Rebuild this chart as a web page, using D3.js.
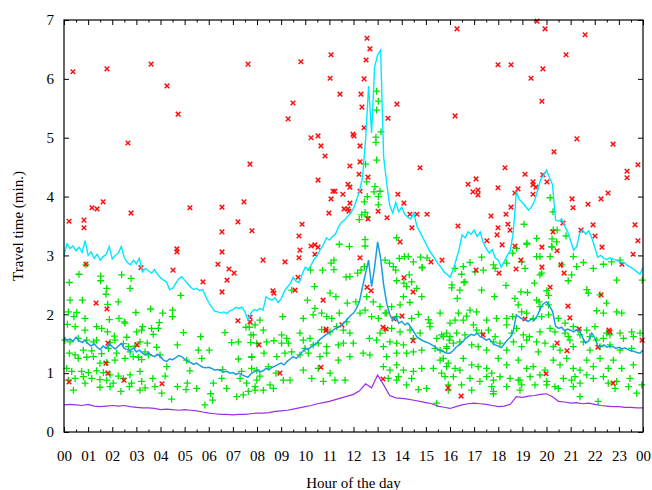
<!DOCTYPE html>
<html>
<head>
<meta charset="utf-8">
<script src="https://cdn.jsdelivr.net/npm/d3@7/dist/d3.min.js"></script>
<style>
  body { margin: 0; background: #fff; }
  svg { display: block; font-family: "Liberation Serif", "DejaVu Serif", serif; }
</style>
</head>
<body>
<svg id="chart" width="652" height="490"></svg>
<script>
// hour tick labels
var hourLabels = ["00","01","02","03","04","05","06","07","08","09","10","11",
  "12","13","14","15","16","17","18","19","20","21","22","23","00"];
var yTicks = [0, 1, 2, 3, 4, 5, 6, 7];

// upper curve (cyan), one value every 1/8 hour
var cyanStep = 0.125;
var cyanVals = [3.00,3.20,3.12,3.16,3.08,3.14,3.05,3.25,3.00,3.06,2.95,3.02,2.92,2.98,3.02,3.15,
  2.94,3.00,3.04,3.15,2.96,2.88,2.84,2.92,2.86,2.95,2.72,2.78,2.74,2.70,2.76,2.68,
  2.62,2.58,2.55,2.42,2.44,2.52,2.60,2.64,2.58,2.52,2.46,2.42,2.44,2.40,2.42,2.30,
  2.20,2.12,2.05,2.04,2.02,2.04,2.01,2.06,2.08,2.12,2.10,2.12,2.04,1.90,2.02,2.08,
  2.06,2.10,2.07,2.30,2.26,2.24,2.28,2.20,2.26,2.38,2.46,2.52,2.63,2.56,2.54,2.68,
  2.80,2.76,2.84,2.94,3.00,3.10,3.18,3.30,3.26,3.32,3.36,3.48,3.56,3.60,3.66,3.72,
  3.80,3.94,4.10,4.33,4.96,5.88,5.08,6.20,6.41,6.49,4.67,4.23,3.85,3.72,3.90,3.74,
  3.82,3.70,3.65,3.62,3.72,3.50,3.40,3.30,3.20,3.10,3.02,2.94,2.86,2.80,2.72,2.68,
  2.63,2.75,2.92,3.10,3.35,3.30,3.40,3.36,3.43,3.32,3.40,3.22,3.12,3.04,3.10,2.96,
  2.92,2.80,2.90,3.00,3.08,3.40,4.08,3.95,3.90,3.84,3.77,3.82,3.92,4.10,4.28,4.36,
  4.45,4.32,4.20,3.60,3.58,3.62,3.50,3.40,3.25,3.09,3.15,3.38,3.43,3.36,3.42,3.30,
  3.14,2.97,3.00,2.95,2.93,2.96,2.94,2.92,2.90,2.88,2.87,2.82,2.80,2.76,2.72,2.68,2.80];

// middle curve (blue), one value every 1/8 hour
var blueStep = 0.125;
var blueVals = [1.60,1.56,1.58,1.54,1.61,1.55,1.52,1.56,1.50,1.46,1.50,1.44,1.40,1.46,1.42,1.50,
  1.45,1.41,1.46,1.50,1.42,1.40,1.38,1.43,1.36,1.39,1.34,1.31,1.35,1.30,1.28,1.32,
  1.28,1.22,1.20,1.24,1.23,1.26,1.30,1.28,1.24,1.20,1.18,1.15,1.17,1.13,1.10,1.09,
  1.10,1.08,1.05,1.06,1.04,1.02,1.03,1.00,1.01,0.98,1.00,0.97,0.95,0.93,0.99,1.02,
  1.05,1.02,1.04,1.08,1.06,1.10,1.12,1.15,1.17,1.14,1.20,1.24,1.28,1.25,1.30,1.36,
  1.42,1.40,1.45,1.48,1.52,1.58,1.62,1.66,1.68,1.72,1.76,1.78,1.82,1.86,1.92,1.98,
  2.02,2.10,2.22,2.47,2.70,2.92,2.47,2.80,3.23,2.95,2.50,2.19,2.00,1.90,1.96,1.85,
  1.88,1.82,1.85,1.78,1.70,1.62,1.58,1.55,1.53,1.51,1.48,1.45,1.40,1.38,1.36,1.34,
  1.34,1.38,1.44,1.48,1.52,1.58,1.62,1.66,1.64,1.68,1.62,1.60,1.56,1.58,1.52,1.48,
  1.46,1.43,1.50,1.56,1.61,1.72,1.99,1.95,1.92,1.90,1.88,1.92,1.90,1.98,2.10,2.18,
  2.21,2.14,2.05,1.80,1.76,1.78,1.72,1.75,1.73,1.70,1.74,1.72,1.60,1.51,1.55,1.68,
  1.60,1.46,1.45,1.48,1.44,1.46,1.45,1.42,1.44,1.41,1.43,1.40,1.38,1.37,1.35,1.34,1.39];

// lower curve (purple), one value every 1/4 hour
var purpleStep = 0.25;
var purpleVals = [0.46,0.47,0.46,0.45,0.47,0.44,0.43,0.44,0.45,0.44,0.45,0.43,
  0.42,0.41,0.41,0.40,0.38,0.39,0.38,0.37,0.38,0.37,0.36,0.34,
  0.32,0.31,0.30,0.30,0.29,0.30,0.30,0.31,0.32,0.32,0.33,0.35,
  0.36,0.37,0.39,0.41,0.43,0.45,0.48,0.50,0.52,0.55,0.58,0.61,
  0.64,0.70,0.82,0.75,0.97,0.80,0.62,0.58,0.57,0.56,0.54,0.52,
  0.50,0.48,0.44,0.42,0.40,0.43,0.46,0.48,0.49,0.48,0.47,0.45,
  0.43,0.44,0.47,0.60,0.59,0.61,0.62,0.64,0.65,0.60,0.52,0.51,
  0.49,0.50,0.48,0.49,0.47,0.45,0.44,0.43,0.43,0.42,0.42,0.41,0.41];

// single observations [hour, minutes]
var greenPts = [
  [0.91,2.84],[0.62,2.68],[1.52,2.65],[1.52,2.57],[2.39,2.67],[2.78,2.61],[0.22,2.54],[1.77,2.44],
  [1.74,2.34],[2.74,2.44],[4.84,2.32],[0.25,2.24],[0.76,2.24],[1.81,2.17],[2.25,2.21],[0.18,2.04],
  [0.53,2.03],[0.41,1.96],[0.87,1.93],[1.88,1.91],[2.28,1.93],[2.50,1.87],[2.98,2.03],[3.59,2.09],
  [4.09,2.02],[4.50,2.07],[4.49,1.96],[0.14,1.83],[0.46,1.79],[0.87,1.73],[1.35,1.79],[1.56,1.76],
  [1.80,1.70],[2.09,1.63],[2.60,1.61],[2.53,1.85],[3.01,1.70],[3.26,1.79],[3.22,1.73],[3.63,1.76],
  [3.95,1.86],[3.91,1.76],[3.70,1.66],[4.95,1.69],[5.66,1.62],[6.67,1.69],[7.68,1.78],[7.54,1.78],
  [7.92,1.82],[7.75,1.65],[0.04,1.56],[0.25,1.53],[0.59,1.59],[0.94,1.56],[1.22,1.53],[1.35,1.56],
  [1.91,1.52],[2.11,1.56],[2.46,1.50],[2.67,1.45],[2.94,1.46],[3.15,1.53],[3.45,1.51],[4.70,1.48],
  [5.57,1.39],[6.02,1.39],[6.95,1.52],[7.23,1.53],[7.74,1.52],[0.22,1.34],[0.46,1.31],[0.80,1.39],
  [1.15,1.38],[1.56,1.33],[1.84,1.42],[2.18,1.34],[2.74,1.36],[3.08,1.27],[3.36,1.36],[3.84,1.44],
  [3.98,1.31],[0.59,1.25],[0.94,1.27],[1.22,1.28],[1.49,1.17],[1.77,1.18],[2.11,1.22],[2.53,1.25],
  [2.87,1.28],[3.22,1.23],[3.50,1.31],[5.08,1.22],[5.71,1.25],[7.23,1.24],[7.78,1.27],[0.11,1.08],
  [0.32,1.03],[0.73,1.03],[1.01,1.01],[1.35,1.04],[1.63,1.01],[1.91,0.97],[2.25,0.95],[2.74,0.97],
  [3.15,1.03],[4.26,1.11],[5.22,1.04],[6.58,1.06],[7.36,1.03],[8.12,0.95],[0.18,0.88],[0.46,0.91],
  [0.80,0.94],[1.15,0.91],[1.49,0.89],[1.77,0.88],[2.04,0.83],[2.46,0.91],[2.80,0.83],[3.22,0.86],
  [3.68,0.91],[4.19,0.95],[4.70,0.77],[5.11,0.83],[5.50,0.74],[6.19,0.83],[6.54,0.91],[7.30,0.91],
  [7.57,0.83],[7.99,0.88],[0.39,0.71],[0.87,0.83],[1.49,0.76],[1.91,0.77],[2.36,0.69],[2.71,0.77],
  [3.15,0.71],[3.36,0.75],[3.77,0.77],[4.05,0.66],[4.46,0.56],[5.06,0.72],[6.08,0.65],[6.16,0.54],
  [5.84,0.46],[6.74,0.74],[7.16,0.60],[7.43,0.63],[7.64,0.69],[7.92,0.71],
  [12.96,5.79],[13.03,5.62],[12.96,5.47],[13.14,5.10],[12.93,5.01],[12.93,4.92],[12.96,4.62],[12.50,4.55],
  [12.55,4.25],[12.89,4.17],[12.85,4.08],[13.10,4.09],[13.03,4.00],[12.57,4.00],[12.45,3.91],[13.03,3.86],
  [12.48,3.73],[12.34,3.69],[12.57,3.66],[12.24,3.61],[11.41,3.19],[11.83,3.15],[12.48,3.27],[12.48,3.16],
  [13.79,3.30],[14.11,2.98],[13.90,2.95],[11.19,2.92],[11.07,2.87],[11.19,2.76],[10.72,2.75],[10.22,2.75],
  [11.69,2.63],[11.85,2.64],[12.17,2.70],[12.31,2.75],[12.45,2.81],[13.31,2.92],[13.49,2.87],[13.65,2.81],
  [13.75,2.75],[14.27,2.98],[14.48,2.89],[14.78,2.97],[14.85,2.80],[14.31,2.67],[14.09,2.53],[14.20,2.47],
  [14.41,2.55],[13.79,2.57],[14.07,2.30],[14.34,2.20],[14.62,2.44],[14.83,2.30],[13.93,2.16],[13.58,2.13],
  [13.37,2.02],[13.79,1.96],[14.69,2.00],[14.41,1.93],[15.10,1.91],[15.59,2.02],[9.44,2.41],[10.38,2.47],
  [11.03,2.36],[11.27,2.30],[11.74,2.19],[12.10,2.21],[12.55,2.30],[12.82,2.21],[13.10,2.13],[13.31,2.02],
  [10.09,2.24],[10.40,2.10],[10.68,2.02],[11.10,1.93],[11.41,2.02],[11.72,1.87],[12.27,2.02],[12.48,2.07],
  [12.75,1.96],[13.03,1.93],[13.31,1.73],[13.10,1.68],[13.58,1.76],[13.51,1.53],[13.93,1.70],[14.34,1.73],
  [14.76,1.68],[15.17,1.85],[15.17,1.79],[15.65,1.65],[15.86,1.68],[15.97,1.56],[8.12,1.90],[9.06,1.96],
  [9.92,1.93],[10.33,1.99],[10.89,1.96],[8.26,1.73],[9.02,1.65],[9.23,1.59],[9.78,1.68],[10.20,1.59],
  [10.68,1.74],[11.03,1.70],[11.30,1.79],[11.58,1.73],[11.85,1.68],[8.40,1.53],[8.70,1.55],[9.02,1.51],
  [9.30,1.51],[9.92,1.56],[9.99,1.42],[10.33,1.48],[10.54,1.51],[10.89,1.45],[11.37,1.48],[11.58,1.51],
  [11.99,1.51],[12.66,1.59],[12.96,1.56],[13.24,1.45],[13.79,1.51],[14.07,1.48],[14.48,1.59],[15.45,1.59],
  [15.86,1.42],[7.85,1.65],[7.99,1.51],[7.78,1.28],[8.29,1.34],[8.82,1.28],[9.16,1.34],[9.44,1.36],
  [9.78,1.31],[10.13,1.34],[10.61,1.28],[10.89,1.34],[11.37,1.22],[11.85,1.28],[12.40,1.34],[13.37,1.28],
  [13.79,1.34],[14.20,1.34],[14.48,1.36],[14.83,1.39],[15.38,1.42],[15.72,1.25],[7.78,1.08],[7.99,1.05],
  [8.47,1.11],[8.79,1.00],[9.09,0.88],[9.37,0.88],[9.92,1.05],[10.27,0.91],[10.54,1.08],[10.75,0.86],
  [11.03,1.00],[11.23,0.88],[11.65,0.88],[13.24,1.11],[13.51,1.05],[13.79,1.14],[14.07,1.05],[14.48,1.03],
  [14.83,1.08],[15.31,1.08],[15.65,1.00],[15.86,1.11],[7.92,0.77],[8.26,0.71],[8.54,0.80],[8.68,0.74],
  [12.68,1.31],[13.44,0.91],[13.79,0.88],[14.20,0.80],[14.69,0.72],[15.03,0.74],[15.45,0.49],[15.93,0.80],
  [13.86,0.94],[14.41,0.91],
  [15.05,2.96],[14.84,2.79],[16.08,2.50],[16.41,2.41],[16.62,2.55],
  [20.15,3.98],[20.27,3.74],[20.23,3.28],[20.44,3.43],[20.81,3.33],[19.19,3.21],[20.23,3.14],
  [19.07,3.53],[19.59,3.29],[20.28,3.43],[20.42,3.23],[20.21,3.15],[19.18,3.19],[18.76,3.12],[18.60,3.04],
  [17.31,2.97],[16.83,2.88],[16.55,2.81],[16.21,2.78],[17.04,2.72],[17.38,2.75],[17.80,2.84],[17.87,2.78],
  [18.35,2.87],[18.97,2.89],[19.59,2.98],[19.73,2.98],[20.15,2.98],[20.63,2.84],[21.11,2.98],[21.25,2.81],
  [21.53,2.88],[21.94,2.78],[22.36,2.85],[22.70,2.89],[23.05,2.92],[21.04,2.67],[19.80,2.70],[19.73,2.67],
  [19.11,2.78],[16.48,2.68],[16.58,2.54],[16.07,2.45],[16.30,2.27],[17.31,2.41],[18.32,2.49],[19.50,2.53],
  [18.94,2.38],[19.21,2.37],[20.01,2.40],[20.08,2.32],[20.90,2.57],[21.67,2.42],[21.73,2.36],[22.22,2.33],
  [22.91,2.58],[23.97,2.58],[17.84,2.30],[18.69,2.27],[18.83,2.16],[18.97,2.04],[19.59,2.24],[19.69,2.21],
  [20.08,2.16],[19.73,2.13],[22.49,2.19],[22.08,2.06],[22.36,2.02],[22.91,2.04],[23.12,2.02],[16.35,2.02],
  [16.21,1.90],[16.00,1.85],[16.55,1.90],[16.83,2.07],[17.10,2.04],[16.69,1.97],[17.52,1.90],[17.93,1.93],
  [18.35,1.93],[18.60,1.96],[19.18,2.02],[19.45,1.93],[19.80,1.96],[20.08,1.99],[20.49,1.93],[20.77,1.85],
  [21.11,1.79],[21.32,1.73],[21.67,1.73],[22.01,1.79],[22.49,1.68],[23.05,1.68],[23.53,1.70],[15.72,1.62],
  [16.00,1.62],[16.28,1.68],[16.62,1.65],[16.97,1.82],[17.10,1.73],[17.31,1.68],[17.59,1.73],[17.87,1.62],
  [18.35,1.82],[18.56,1.68],[18.76,1.76],[19.04,1.65],[19.29,1.62],[19.73,1.70],[20.15,1.76],[20.35,1.70],
  [20.77,1.68],[20.90,1.62],[21.39,1.65],[21.80,1.62],[22.08,1.56],[22.36,1.59],[22.63,1.65],[23.19,1.59],
  [23.60,1.62],[23.88,1.68],[15.59,1.39],[15.86,1.45],[16.14,1.51],[16.41,1.53],[16.90,1.48],[17.17,1.45],
  [17.52,1.39],[17.80,1.53],[18.07,1.51],[18.35,1.39],[18.63,1.53],[18.97,1.45],[19.18,1.56],[19.59,1.53],
  [19.94,1.51],[20.28,1.45],[20.56,1.39],[20.97,1.56],[21.11,1.45],[21.53,1.53],[21.80,1.39],[22.22,1.45],
  [22.63,1.48],[23.05,1.39],[23.53,1.42],[15.59,1.22],[15.93,1.17],[16.21,1.08],[16.55,1.25],[16.90,1.14],
  [17.17,1.11],[17.52,1.08],[17.73,1.00],[18.00,1.25],[18.35,1.14],[18.83,1.22],[19.18,1.08],[19.45,1.11],
  [19.66,1.36],[19.94,1.05],[20.28,1.22],[20.56,1.14],[20.84,1.25],[21.11,1.08],[21.39,1.05],[21.67,1.22],
  [21.94,1.11],[22.22,1.25],[22.56,1.08],[22.77,1.22],[23.12,1.08],[23.60,1.14],[15.79,0.94],[16.14,0.94],
  [16.41,1.05],[16.83,0.91],[17.24,0.86],[17.52,0.94],[17.80,0.88],[18.07,0.94],[18.49,0.91],[18.90,0.88],
  [18.97,0.80],[19.32,0.94],[19.73,0.97],[20.01,0.80],[20.35,0.77],[20.70,0.91],[21.04,0.88],[21.18,0.94],
  [21.39,0.83],[21.67,0.97],[21.94,0.91],[22.36,0.94],[22.56,0.83],[22.91,0.86],[23.46,0.91],[23.95,0.80],
  [15.93,0.71],[16.48,0.80],[16.90,0.71],[17.73,0.77],[17.80,0.69],[18.35,0.77],[18.90,0.71],[19.52,0.80],
  [20.01,0.86],[20.49,0.74],[21.11,0.77],[21.39,0.60],[22.14,0.52],[22.84,0.74],[23.40,0.77],[23.74,0.66],
  [17.80,0.65],[18.83,0.88]
];

var redPts = [
  [0.21,3.58],[0.37,6.12],[0.83,3.60],[0.83,3.47],[1.16,3.81],[1.37,3.79],[1.62,3.91],[1.78,6.17],
  [2.65,4.91],[2.78,3.72],[3.61,6.25],[4.27,5.88],[4.73,5.40],[5.22,3.81],[7.63,6.25],[7.71,4.55],
  [6.55,3.82],[7.46,3.91],[7.21,3.57],[9.82,6.29],[9.49,5.59],[9.29,5.32],[11.07,6.41],[11.03,6.01],
  [11.44,5.74],[10.24,5.00],[10.53,5.03],[10.65,4.86],[10.82,4.69],[10.53,4.28],[9.87,3.53],[11.07,3.96],
  [11.15,4.09],[11.23,4.09],[11.56,4.04],[10.98,3.72],[11.61,3.79],[11.77,3.79],[11.81,3.75],[11.85,3.89],
  [11.77,4.21],[11.85,4.16],[11.85,4.52],[11.98,5.06],[12.02,5.03],[12.27,4.86],[12.23,4.38],[12.27,4.59],
  [12.44,5.17],[12.31,5.74],[12.35,5.52],[12.44,6.00],[12.52,6.32],[12.56,6.69],[12.68,6.51],[12.60,4.33],
  [12.27,4.09],[13.02,3.75],[12.60,3.62],[13.80,5.57],[13.43,5.33],[13.84,4.04],[14.09,3.89],[14.34,3.70],
  [14.63,3.70],[14.42,3.47],[14.76,4.49],[13.39,3.64],[16.29,6.85],[16.21,5.37],[15.05,3.70],[16.33,3.50],
  [16.75,4.21],[17.08,4.30],[16.95,4.08],[17.16,4.11],[17.16,4.03],[17.99,6.24],[18.53,6.24],[18.28,4.49],
  [17.99,4.15],[18.69,4.06],[18.82,4.13],[18.53,3.82],[18.32,3.70],[17.70,3.67],[18.40,3.53],[17.99,3.47],
  [18.49,3.43],[19.61,6.98],[19.94,6.85],[21.60,6.75],[20.81,6.41],[19.85,6.17],[19.36,6.01],[19.81,5.62],
  [21.26,4.98],[22.76,4.89],[20.31,4.76],[19.11,4.38],[19.85,4.37],[19.44,4.25],[19.44,4.20],[19.56,4.16],
  [19.44,4.04],[20.02,4.25],[23.79,4.54],[23.34,4.43],[23.34,4.32],[22.55,4.06],[21.06,3.96],[22.26,3.96],
  [21.72,3.87],[21.10,3.81],[20.68,3.55],[21.43,3.43],[21.93,3.52],[23.67,3.52],
  [0.21,0.85],[0.91,2.85],[1.33,2.19],[1.78,2.09],[1.82,1.51],[1.74,1.17],[1.82,1.00],[2.49,0.88],
  [3.03,1.48],[3.19,2.79],[4.06,0.82],[4.52,2.75],[4.68,3.11],[4.68,3.06],[5.76,2.55],[6.38,2.85],
  [6.55,3.40],[7.79,3.42],[9.74,3.33],[9.78,3.09],[6.55,3.06],[6.84,2.77],[7.05,2.70],[6.76,2.58],
  [6.55,2.38],[8.25,2.92],[9.16,2.89],[9.74,2.96],[9.70,2.63],[8.66,2.40],[8.70,2.36],[9.58,2.41],
  [7.21,1.89],[7.71,1.95],[7.71,1.87],[8.08,1.48],[8.95,1.00],[10.24,3.16],[10.40,3.18],[10.53,3.14],
  [10.40,3.02],[10.74,2.24],[10.86,1.75],[10.86,1.72],[11.52,1.82],[10.65,1.10],[12.27,2.96],[12.56,2.46],
  [12.73,2.40],[13.22,1.78],[13.35,1.75],[13.22,0.90],[13.68,1.92],[14.01,1.97],[13.93,3.23],[14.09,2.62],
  [14.47,2.38],[14.47,1.55],[15.21,2.89],[15.67,2.92],[17.53,3.25],[18.16,3.18],[17.95,3.35],[17.08,2.75],
  [18.03,2.70],[18.69,3.16],[18.94,2.92],[18.74,2.77],[19.81,3.14],[19.81,2.80],[20.44,3.08],[20.27,3.40],
  [22.01,3.33],[22.30,3.14],[20.15,2.46],[20.60,2.84],[20.73,2.70],[20.89,2.14],[20.97,1.94],[19.11,1.92],
  [21.35,1.75],[20.44,1.51],[20.85,1.38],[22.13,1.44],[22.59,1.73],[22.63,1.70],[23.59,3.02],[23.79,3.25],
  [23.13,2.85],[23.96,1.56],[19.98,0.99],[22.76,0.83],[15.92,0.75],[16.46,0.61],[17.37,1.65],[22.26,2.33]
];

var svg = d3.select("#chart");
var margin = {top: 20, right: 9, bottom: 58, left: 64};
var W = +svg.attr("width"), H = +svg.attr("height");

var x = d3.scaleLinear().domain([0, 24]).range([margin.left, W - margin.right]);
var y = d3.scaleLinear().domain([0, 7]).range([H - margin.bottom, margin.top]);

svg.append("rect").attr("width", W).attr("height", H).attr("fill", "#fff");

var hours = d3.range(0, 25);
var halfHours = d3.range(0.5, 24, 1);

function styleAxis(g) {
  g.select(".domain").remove();
  g.selectAll("line").attr("stroke", "#000").attr("stroke-width", 1);
  g.selectAll("text").attr("fill", "#000").style("font-size", "15px")
    .style("font-family", '"Liberation Serif", "DejaVu Serif", serif');
}

// bottom axis with labels
svg.append("g")
  .attr("transform", "translate(0," + y(0) + ")")
  .call(d3.axisBottom(x).tickValues(hours).tickSize(-5).tickSizeOuter(0).tickPadding(18)
    .tickFormat(function(d) { return hourLabels[d]; }))
  .call(styleAxis);
svg.append("g")
  .attr("transform", "translate(0," + y(0) + ")")
  .call(d3.axisBottom(x).tickValues(halfHours).tickSize(-2.5).tickSizeOuter(0).tickFormat(""))
  .call(styleAxis);
// top mirror
svg.append("g")
  .attr("transform", "translate(0," + y(7) + ")")
  .call(d3.axisTop(x).tickValues(hours).tickSize(-5).tickSizeOuter(0).tickFormat(""))
  .call(styleAxis);
svg.append("g")
  .attr("transform", "translate(0," + y(7) + ")")
  .call(d3.axisTop(x).tickValues(halfHours).tickSize(-2.5).tickSizeOuter(0).tickFormat(""))
  .call(styleAxis);
// left axis
svg.append("g")
  .attr("transform", "translate(" + x(0) + ",0)")
  .call(d3.axisLeft(y).tickValues(yTicks).tickSize(-5).tickSizeOuter(0).tickPadding(10)
    .tickFormat(d3.format("d")))
  .call(styleAxis);
// right mirror
svg.append("g")
  .attr("transform", "translate(" + x(24) + ",0)")
  .call(d3.axisRight(y).tickValues(yTicks).tickSize(-5).tickSizeOuter(0).tickFormat(""))
  .call(styleAxis);

var plot = svg.append("g");

// green crosses
plot.selectAll(".g").data(greenPts).enter().append("path")
  .attr("d", function(d) {
    var px = x(d[0]), py = y(d[1]);
    return "M" + (px - 3.5) + "," + py + "h7M" + px + "," + (py - 3.5) + "v7";
  })
  .attr("stroke", "#00e600").attr("stroke-width", 1.3).attr("fill", "none");

// red x marks
plot.selectAll(".r").data(redPts).enter().append("path")
  .attr("d", function(d) {
    var px = x(d[0]), py = y(d[1]), s = 2.3;
    return "M" + (px - s) + "," + (py - s) + "L" + (px + s) + "," + (py + s) +
      "M" + (px - s) + "," + (py + s) + "L" + (px + s) + "," + (py - s);
  })
  .attr("stroke", "#ff1010").attr("stroke-width", 1.5).attr("fill", "none");

function curve(vals, step) {
  return d3.line()
    .x(function(d, i) { return x(i * step); })
    .y(function(d) { return y(d); })(vals);
}

plot.append("path").attr("d", curve(cyanVals, cyanStep))
  .attr("fill", "none").attr("stroke", "#00e8ff").attr("stroke-width", 1.4);
plot.append("path").attr("d", curve(blueVals, blueStep))
  .attr("fill", "none").attr("stroke", "#1a9de0").attr("stroke-width", 1.5);
plot.append("path").attr("d", curve(purpleVals, purpleStep))
  .attr("fill", "none").attr("stroke", "#9a30e8").attr("stroke-width", 1.2);

// border box
svg.append("rect")
  .attr("x", x(0)).attr("y", y(7))
  .attr("width", x(24) - x(0)).attr("height", y(0) - y(7))
  .attr("fill", "none").attr("stroke", "#000").attr("stroke-width", 1.2);

// axis titles
svg.append("text")
  .attr("x", (x(0) + x(24)) / 2).attr("y", 488)
  .attr("text-anchor", "middle").style("font-size", "15px")
  .text("Hour of the day");
svg.append("text")
  .attr("transform", "translate(23," + ((y(0) + y(7)) / 2) + ") rotate(-90)")
  .attr("text-anchor", "middle").style("font-size", "15px")
  .text("Travel time (min.)");
</script>
</body>
</html>
